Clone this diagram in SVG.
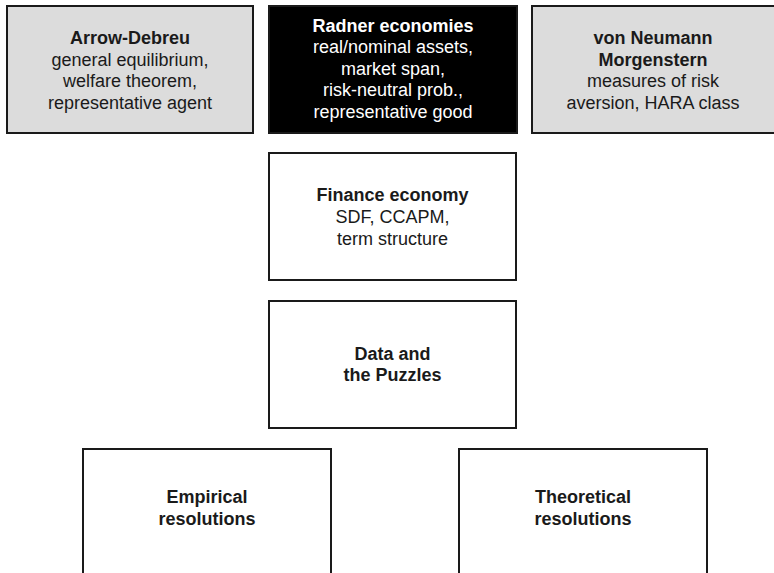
<svg xmlns="http://www.w3.org/2000/svg" width="774" height="573" viewBox="0 0 774 573">
<style>
.box{stroke:#1a1a1a;stroke-width:2}
.gray{fill:#dcdcdc}
.black{fill:#000}
.white{fill:#fff}
text{font-family:"Liberation Sans",Arial,sans-serif;font-size:18px;text-anchor:middle;fill:#1a1a1a}
.b{font-weight:bold}
.inv{fill:#fff}
</style>
<rect width="774" height="573" fill="#fff"/>
<g id="connectors"></g>
<g id="arrow-debreu">
<rect class="box gray" x="7" y="6" width="246" height="127"/>
<text x="130" y="44"><tspan class="b">Arrow-Debreu</tspan><tspan x="130" dy="21.5">general equilibrium,</tspan><tspan x="130" dy="21.5">welfare theorem,</tspan><tspan x="130" dy="21.5">representative agent</tspan></text>
</g>
<g id="radner">
<rect class="box black" x="269" y="6" width="248" height="127"/>
<text class="inv" x="393" y="31.5"><tspan class="b">Radner economies</tspan><tspan x="393" dy="21.5">real/nominal assets,</tspan><tspan x="393" dy="21.5">market span,</tspan><tspan x="393" dy="21.5">risk-neutral prob.,</tspan><tspan x="393" dy="21.5">representative good</tspan></text>
</g>
<g id="vnm">
<rect class="box gray" x="532" y="6" width="247" height="127"/>
<text x="653" y="44"><tspan class="b">von Neumann</tspan><tspan class="b" x="653" dy="21.5">Morgenstern</tspan><tspan x="653" dy="21.5">measures of risk</tspan><tspan x="653" dy="21.5">aversion, HARA class</tspan></text>
</g>
<g id="finance">
<rect class="box white" x="269" y="153" width="247" height="127"/>
<text x="392.5" y="200.5"><tspan class="b">Finance economy</tspan><tspan x="392.5" dy="22">SDF, CCAPM,</tspan><tspan x="392.5" dy="22">term structure</tspan></text>
</g>
<g id="data">
<rect class="box white" x="269" y="301" width="247" height="127"/>
<text class="b" x="392.5" y="359.5"><tspan>Data and</tspan><tspan x="392.5" dy="21.5">the Puzzles</tspan></text>
</g>
<g id="empirical">
<rect class="box white" x="83" y="449" width="248" height="140"/>
<text class="b" x="207" y="503"><tspan>Empirical</tspan><tspan x="207" dy="21.5">resolutions</tspan></text>
</g>
<g id="theoretical">
<rect class="box white" x="459" y="449" width="248" height="140"/>
<text class="b" x="583" y="503"><tspan>Theoretical</tspan><tspan x="583" dy="21.5">resolutions</tspan></text>
</g>
</svg>
